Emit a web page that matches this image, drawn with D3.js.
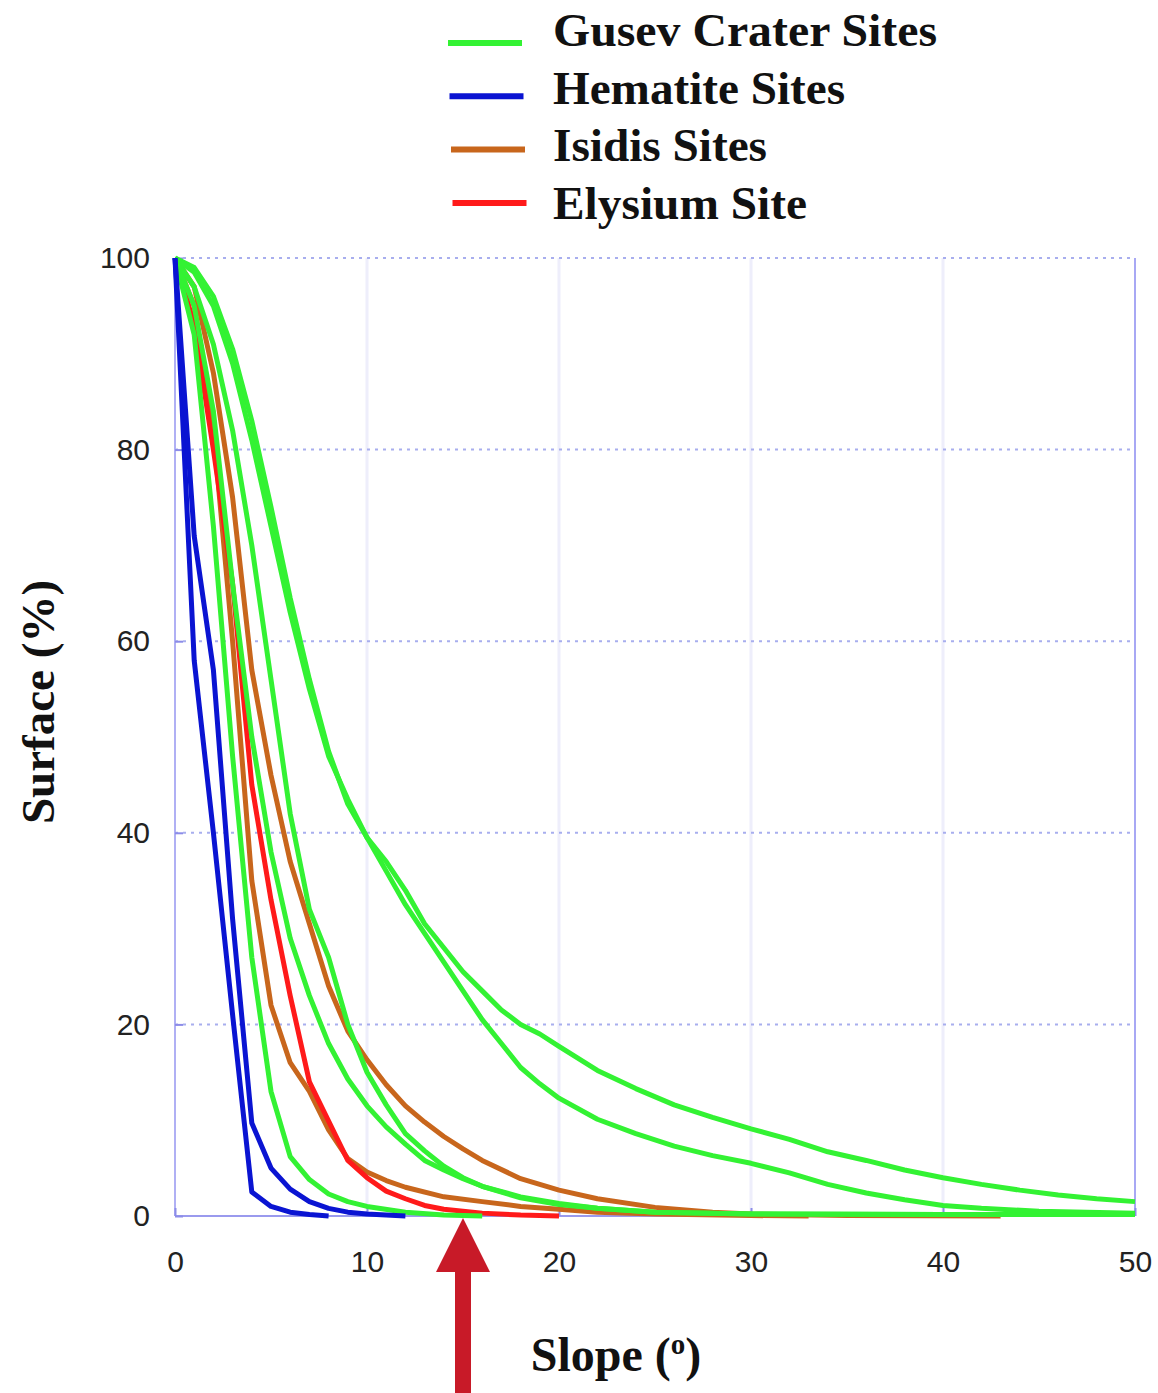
<!DOCTYPE html>
<html lang="en">
<head>
<meta charset="UTF-8">
<script src="https://d3js.org/d3.v7.min.js"></script>
<title>Surface vs slope</title>
<style>
  body { margin: 0; background: #fff; }
  svg { display: block; }
</style>
</head>
<body>
<svg width="1158" height="1393"></svg>
<script>
// [slope in degrees, surface %]
const gusev1 = [[0,100],[1,92],[2,72],[3,48],[4,27],[5,13],[6,6.2],[7,3.8],[8,2.3],[9,1.5],[10,1.0],[12,0.4],[14,0.1],[16,0]];
const gusev2 = [[0,100],[1,95],[2,84],[3,66],[4,50],[5,38],[6,29],[7,23],[8,18],[9,14.3],[10,11.5],[11,9.3],[12,7.5],[13,5.8],[14,4.8],[15,3.9],[16,3.1],[18,2.0],[20,1.3],[22,0.8],[25,0.4],[30,0.2],[40,0.15],[50,0.15]];
const gusev3 = [[0,100],[1,97],[2,91],[3,82],[4,70],[5,56],[6,42],[7,32],[8,27],[9,20],[10,15],[11,11.6],[12,8.6],[13,6.8],[14,5.2],[15,4.0],[16,3.1],[18,1.9],[20,1.2],[22,0.8],[25,0.4],[30,0.2],[40,0.15],[50,0.15]];
const gusev4 = [[0,100],[1,99],[2,96],[3,90.5],[4,83],[5,74],[6,64.5],[7,56],[8,48.5],[9,43],[10,39.5],[11,36],[12,32.5],[13,29.5],[14,26.5],[15,23.5],[16,20.5],[17,18],[18,15.5],[19,13.8],[20,12.3],[22,10.1],[24,8.6],[26,7.3],[28,6.3],[30,5.5],[32,4.5],[34,3.3],[36,2.4],[38,1.7],[40,1.1],[42,0.8],[45,0.5],[50,0.3]];
const gusev5 = [[0,100],[1,98.5],[2,95],[3,89],[4,81],[5,72],[6,63],[7,55],[8,48],[9,43.5],[10,39.5],[11,37],[12,34],[13,30.5],[14,28],[15,25.5],[16,23.5],[17,21.5],[18,20],[19,19],[20,17.7],[22,15.2],[24,13.3],[26,11.6],[28,10.3],[30,9.1],[32,8],[34,6.7],[36,5.8],[38,4.8],[40,4.0],[42,3.3],[44,2.7],[46,2.2],[48,1.8],[50,1.5]];
const hematite1 = [[0,100],[1,58],[2,40],[3,21],[4,2.5],[5,1.0],[6,0.4],[7,0.15],[8,0]];
const hematite2 = [[0,100],[1,71],[2,57],[3,31],[4,9.7],[5,5],[6,2.8],[7,1.5],[8,0.8],[9,0.4],[10,0.2],[11,0.1],[12,0]];
const isidis1 = [[0,100],[1,95],[2,82],[3,60],[4,35],[5,22],[6,16],[7,13],[8,9],[9,6],[10,4.6],[11,3.7],[12,3.0],[14,2.0],[16,1.5],[18,1.0],[20,0.7],[22,0.4],[25,0.2],[30,0.05],[33,0]];
const isidis2 = [[0,100],[1,97],[2,88],[3,75],[4,57],[5,46],[6,37],[7,30.5],[8,24],[9,19.3],[10,16.3],[11,13.7],[12,11.5],[13,9.8],[14,8.3],[15,7.0],[16,5.8],[18,3.9],[20,2.7],[22,1.8],[25,0.9],[28,0.4],[30,0.2],[35,0.05],[43,0]];
const elysium = [[0,100],[1,93],[2,80],[3,66],[4,45],[5,33],[6,23],[7,14],[9,5.8],[10,4],[11,2.6],[12,1.8],[13,1.1],[14,0.7],[16,0.3],[18,0.1],[20,0]];

const xTicks = [0, 10, 20, 30, 40, 50];
const yTicks = [0, 20, 40, 60, 80, 100];
const legendNames = ['Gusev Crater Sites', 'Hematite Sites', 'Isidis Sites', 'Elysium Site'];
const legendColors = ['#33f233', '#0a14d2', '#c8661c', '#ff1a1a'];
const legendWidths = [384, 292, 214, 254];
const markedSlope = 15;

const svg = d3.select('svg');

const x = d3.scaleLinear().domain([0, 50]).range([175, 1135]);
const y = d3.scaleLinear().domain([0, 100]).range([1216, 258]);

// grid
svg.append('g')
    .selectAll('line')
    .data(xTicks.slice(1, -1))
    .enter().append('line')
    .attr('x1', d => x(d)).attr('x2', d => x(d))
    .attr('y1', y(100)).attr('y2', y(0))
    .attr('stroke', '#eeeefb')
    .attr('stroke-width', 3);

svg.append('g')
    .selectAll('line')
    .data(yTicks.slice(1))
    .enter().append('line')
    .attr('x1', x(0)).attr('x2', x(50))
    .attr('y1', d => y(d)).attr('y2', d => y(d))
    .attr('stroke', '#a8aeee')
    .attr('stroke-width', 2)
    .attr('stroke-dasharray', '3,5');

// frame
svg.append('line')
    .attr('x1', x(50)).attr('x2', x(50)).attr('y1', y(100)).attr('y2', y(0))
    .attr('stroke', '#a8a8f4').attr('stroke-width', 2);
svg.append('line')
    .attr('x1', x(0)).attr('x2', x(0)).attr('y1', y(100)).attr('y2', y(0))
    .attr('stroke', '#b0b0f4').attr('stroke-width', 2);
svg.append('line')
    .attr('x1', x(0)).attr('x2', x(50)).attr('y1', y(0)).attr('y2', y(0))
    .attr('stroke', '#9a9aee').attr('stroke-width', 2);

// axes labels, with short inward ticks
const yAxis = d3.axisLeft(y).tickValues(yTicks).tickSizeInner(-8).tickSizeOuter(0).tickPadding(25);
svg.append('g')
    .attr('transform', `translate(${x(0)},0)`)
    .call(yAxis)
    .call(g => g.select('.domain').remove())
    .call(g => g.selectAll('.tick line').attr('stroke', '#8c8ce8').attr('stroke-width', 2))
    .selectAll('text')
    .attr('font-family', 'Liberation Sans, Arial, sans-serif')
    .attr('font-size', 30)
    .attr('fill', '#222');

const xAxis = d3.axisBottom(x).tickValues(xTicks).tickSizeInner(-8).tickSizeOuter(0).tickPadding(35);
svg.append('g')
    .attr('transform', `translate(0,${y(0)})`)
    .call(xAxis)
    .call(g => g.select('.domain').remove())
    .call(g => g.selectAll('.tick line').attr('stroke', '#8c8ce8').attr('stroke-width', 2))
    .selectAll('text')
    .attr('font-family', 'Liberation Sans, Arial, sans-serif')
    .attr('font-size', 30)
    .attr('fill', '#222');

// curves
const line = d3.line()
    .x(d => x(d[0]))
    .y(d => y(d[1]));

const series = [
    { data: isidis1, color: legendColors[2] },
    { data: isidis2, color: legendColors[2] },
    { data: elysium, color: legendColors[3] },
    { data: gusev1, color: legendColors[0] },
    { data: gusev2, color: legendColors[0] },
    { data: gusev3, color: legendColors[0] },
    { data: gusev4, color: legendColors[0] },
    { data: gusev5, color: legendColors[0] },
    { data: hematite1, color: legendColors[1] },
    { data: hematite2, color: legendColors[1] }
];

svg.append('g')
    .selectAll('path')
    .data(series)
    .enter().append('path')
    .attr('d', d => line(d.data))
    .attr('fill', 'none')
    .attr('stroke', d => d.color)
    .attr('stroke-width', 5)
    .attr('stroke-linejoin', 'round');

// legend
const legend = svg.append('g')
    .selectAll('g')
    .data(legendNames)
    .enter().append('g');

legend.append('line')
    .attr('x1', (d, i) => 448 + i * 1.5)
    .attr('x2', (d, i) => 522 + i * 1.5)
    .attr('y1', (d, i) => 43 + i * 53.3)
    .attr('y2', (d, i) => 43 + i * 53.3)
    .attr('stroke', (d, i) => legendColors[i])
    .attr('stroke-width', 6);

legend.append('text')
    .attr('x', 553)
    .attr('y', (d, i) => 46 + i * 57.5)
    .attr('font-family', 'Liberation Serif, Times New Roman, serif')
    .attr('font-weight', 'bold')
    .attr('font-size', 46)
    .attr('fill', '#111')
    .attr('textLength', (d, i) => legendWidths[i])
    .attr('lengthAdjust', 'spacingAndGlyphs')
    .text(d => d);

// axis titles
svg.append('text')
    .attr('transform', 'translate(54,702) rotate(-90)')
    .attr('text-anchor', 'middle')
    .attr('font-family', 'Liberation Serif, Times New Roman, serif')
    .attr('font-weight', 'bold')
    .attr('font-size', 47)
    .attr('fill', '#111')
    .text('Surface (%)');

const slopeTitle = svg.append('text')
    .attr('x', 616)
    .attr('y', 1371)
    .attr('text-anchor', 'middle')
    .attr('font-family', 'Liberation Serif, Times New Roman, serif')
    .attr('font-weight', 'bold')
    .attr('font-size', 48)
    .attr('fill', '#111');
slopeTitle.append('tspan').text('Slope (');
slopeTitle.append('tspan').attr('font-size', 29).attr('dy', -17).text('o');
slopeTitle.append('tspan').attr('dy', 17).text(')');

// red arrow marking the slope limit
const ax = x(markedSlope);
svg.append('path')
    .attr('d', `M${ax},${y(0) + 2} L${ax - 27},${y(0) + 56} L${ax + 27},${y(0) + 56} Z`)
    .attr('fill', '#c81a28');
svg.append('rect')
    .attr('x', ax - 8)
    .attr('y', y(0) + 55)
    .attr('width', 16)
    .attr('height', 1393 - y(0) - 55)
    .attr('fill', '#c81a28');
</script>
</body>
</html>
